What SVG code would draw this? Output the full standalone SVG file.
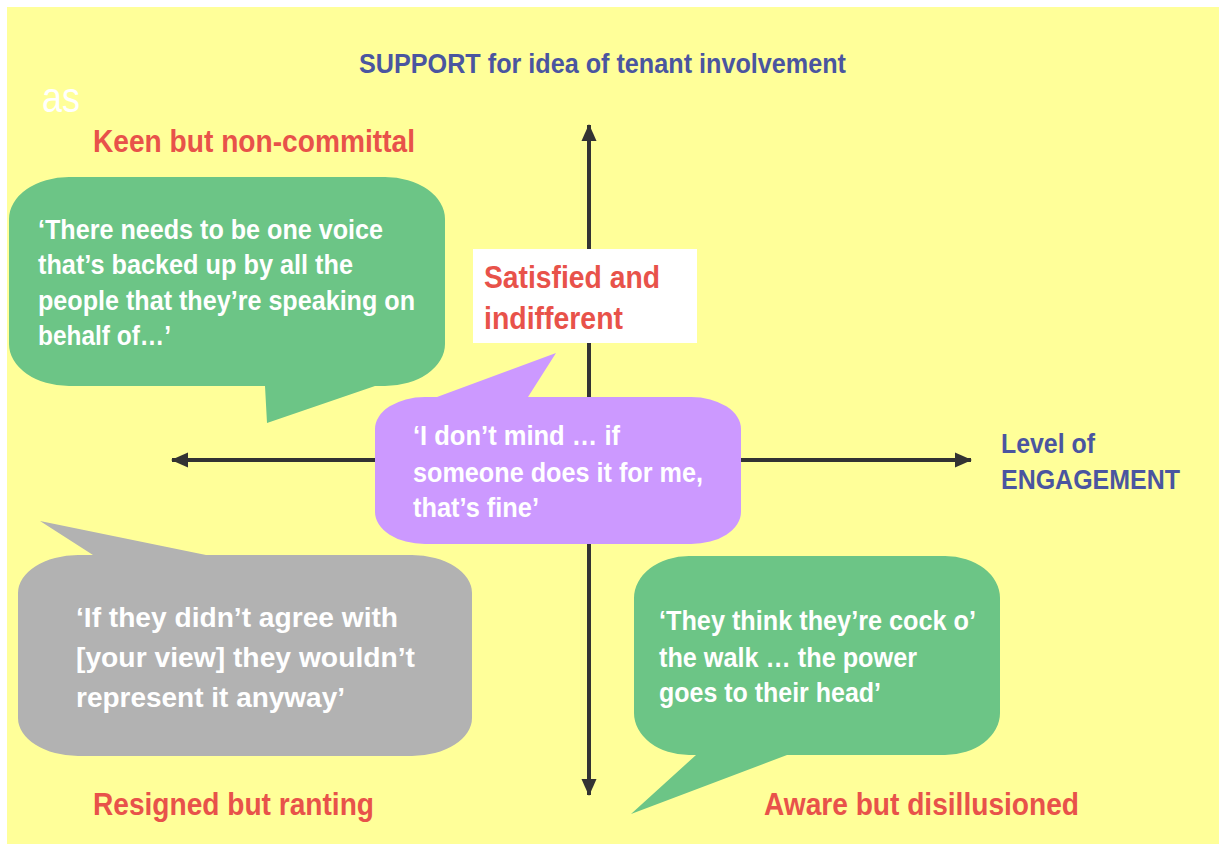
<svg xmlns="http://www.w3.org/2000/svg" width="1219" height="844" viewBox="0 0 1219 844">
<style>
text{font-family:"Liberation Sans Narrow","Liberation Sans",Arial,sans-serif;font-weight:bold}
.q{fill:#FFFFFF;font-size:27px}
.lab{fill:#E8524A;font-size:31px}
.ax{fill:#4A55A0;font-size:27px}
.axis{stroke:#333333;stroke-width:4;fill:none}
</style>
<defs>
<marker id="arr" markerUnits="userSpaceOnUse" markerWidth="18" markerHeight="18" viewBox="0 0 18 18" refX="16" refY="9" orient="auto-start-reverse">
<path d="M0,1.5 L17,9 L0,16.5 Z" fill="#333333"/>
</marker>
</defs>
<rect x="0" y="0" width="1219" height="844" fill="#FFFFFF"/>
<rect x="7" y="7" width="1212" height="837" fill="#FFFF99"/>
<text x="42" y="112" textLength="38" lengthAdjust="spacingAndGlyphs" style="font-weight:normal;font-size:42px;fill:#FFFFFF">as</text>
<g id="connectors">
<line class="axis" x1="589" y1="795" x2="589" y2="125" marker-start="url(#arr)" marker-end="url(#arr)"/>
<line class="axis" x1="172" y1="460" x2="971" y2="460" marker-start="url(#arr)" marker-end="url(#arr)"/>
</g>
<g id="title">
<text class="ax" x="359" y="73" textLength="487" lengthAdjust="spacingAndGlyphs">SUPPORT for idea of tenant involvement</text>
</g>
<g id="engagement">
<text class="ax" x="1001" y="453" textLength="94" lengthAdjust="spacingAndGlyphs">Level of</text>
<text class="ax" x="1001" y="489" textLength="179" lengthAdjust="spacingAndGlyphs">ENGAGEMENT</text>
</g>
<g id="label-keen">
<text class="lab" x="93" y="152" textLength="322" lengthAdjust="spacingAndGlyphs">Keen but non-committal</text>
</g>
<g id="label-resigned">
<text class="lab" x="93" y="815" textLength="281" lengthAdjust="spacingAndGlyphs">Resigned but ranting</text>
</g>
<g id="label-aware">
<text class="lab" x="764" y="815" textLength="315" lengthAdjust="spacingAndGlyphs">Aware but disillusioned</text>
</g>
<g id="bubble-keen">
<path d="M69,177 H385 A60 42 0 0 1 445,219 V344 A60 42 0 0 1 385,386 H375 L267,423 L265,386 H69 A60 42 0 0 1 9,344 V219 A60 42 0 0 1 69,177 Z" fill="#6CC586"/>
<text class="q" x="38" y="239" textLength="345" lengthAdjust="spacingAndGlyphs">‘There needs to be one voice</text>
<text class="q" x="38" y="274" textLength="315" lengthAdjust="spacingAndGlyphs">that’s backed up by all the</text>
<text class="q" x="38" y="310" textLength="377" lengthAdjust="spacingAndGlyphs">people that they’re speaking on</text>
<text class="q" x="38" y="345" textLength="133" lengthAdjust="spacingAndGlyphs">behalf of…’</text>
</g>
<g id="label-satisfied">
<rect x="473" y="249" width="224" height="94" fill="#FFFFFF"/>
<text class="lab" x="484" y="288" textLength="176" lengthAdjust="spacingAndGlyphs">Satisfied and</text>
<text class="lab" x="484" y="329" textLength="139" lengthAdjust="spacingAndGlyphs">indifferent</text>
</g>
<g id="bubble-satisfied">
<path d="M425,397 H437 L556,353 L528,397 H691 A50 32 0 0 1 741,429 V512 A50 32 0 0 1 691,544 H425 A50 32 0 0 1 375,512 V429 A50 32 0 0 1 425,397 Z" fill="#CC99FF"/>
<text class="q" x="413" y="445" textLength="207" lengthAdjust="spacingAndGlyphs">‘I don’t mind … if</text>
<text class="q" x="413" y="482" textLength="290" lengthAdjust="spacingAndGlyphs">someone does it for me,</text>
<text class="q" x="413" y="517" textLength="126" lengthAdjust="spacingAndGlyphs">that’s fine’</text>
</g>
<g id="bubble-resigned">
<path d="M78,555 H93 L40,521 L206,555 H412 A60 38 0 0 1 472,593 V718 A60 38 0 0 1 412,756 H78 A60 38 0 0 1 18,718 V593 A60 38 0 0 1 78,555 Z" fill="#B2B2B2"/>
<text class="q" x="76" y="627" style="font-size:28px" textLength="322" lengthAdjust="spacingAndGlyphs">‘If they didn’t agree with</text>
<text class="q" x="76" y="667" style="font-size:28px" textLength="339" lengthAdjust="spacingAndGlyphs">[your view] they wouldn’t</text>
<text class="q" x="76" y="707" style="font-size:28px" textLength="269" lengthAdjust="spacingAndGlyphs">represent it anyway’</text>
</g>
<g id="bubble-aware">
<path d="M689,556 H945 A55 42 0 0 1 1000,598 V713 A55 42 0 0 1 945,755 H787 L631,814 L696,755 H689 A55 42 0 0 1 634,713 V598 A55 42 0 0 1 689,556 Z" fill="#6CC586"/>
<text class="q" x="659" y="630" textLength="317" lengthAdjust="spacingAndGlyphs">‘They think they’re cock o’</text>
<text class="q" x="659" y="667" textLength="258" lengthAdjust="spacingAndGlyphs">the walk … the power</text>
<text class="q" x="659" y="702" textLength="222" lengthAdjust="spacingAndGlyphs">goes to their head’</text>
</g>
</svg>
